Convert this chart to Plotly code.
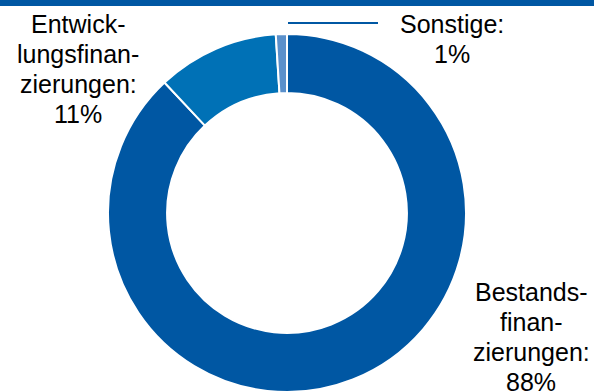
import plotly.graph_objects as go

# Anteile der Finanzierungsarten (in %)
categories = ["Bestandsfinanzierungen", "Entwicklungsfinanzierungen", "Sonstige"]
shares = [88, 11, 1]
label_lines = [
    ["Bestands-", "finan-", "zierungen:", "88%"],
    ["Entwick-", "lungsfinan-", "zierungen:", "11%"],
    ["Sonstige:", "1%"],
]
colors = ["#0057A3", "#0071B6", "#5A90CB"]

W, H = 594, 392

fig = go.Figure(
    go.Pie(
        labels=categories,
        values=shares,
        hole=0.67,
        sort=False,
        direction="clockwise",
        rotation=0,
        textinfo="none",
        marker=dict(colors=colors, line=dict(color="white", width=2)),
        domain=dict(x=[108 / W, 466 / W], y=[0, 358 / H]),
        showlegend=False,
    )
)

font = dict(family="Liberation Sans, Arial, sans-serif", size=25, color="#000000")
LINE_GAP = 30


def px(x, y):
    return x / W, 1 - y / H


# (x-Mitte, y der ersten Zeile) je Beschriftungsblock
positions = [(531, 292), (78, 24), (452, 24)]
for lines, (x, y) in zip(label_lines, positions):
    for i, line in enumerate(lines):
        xp, yp = px(x, y + i * LINE_GAP)
        fig.add_annotation(
            x=xp, y=yp, xref="paper", yref="paper", text=line, showarrow=False,
            font=font, align="center", xanchor="center", yanchor="middle",
        )

# Balken am oberen Rand
fig.add_shape(type="rect", xref="paper", yref="paper", x0=0, x1=1,
              y0=1 - 6 / H, y1=1, fillcolor="#0057A3", line=dict(width=0))

# Führungslinie zu "Sonstige"
x0, y0 = px(288, 23)
x1, _ = px(378, 23)
fig.add_shape(type="line", xref="paper", yref="paper", x0=x0, x1=x1, y0=y0, y1=y0,
              line=dict(color="#0057A3", width=2))

fig.update_layout(
    width=W, height=H,
    margin=dict(l=0, r=0, t=0, b=0),
    paper_bgcolor="white", plot_bgcolor="white",
)

fig.write_html("out.html")
